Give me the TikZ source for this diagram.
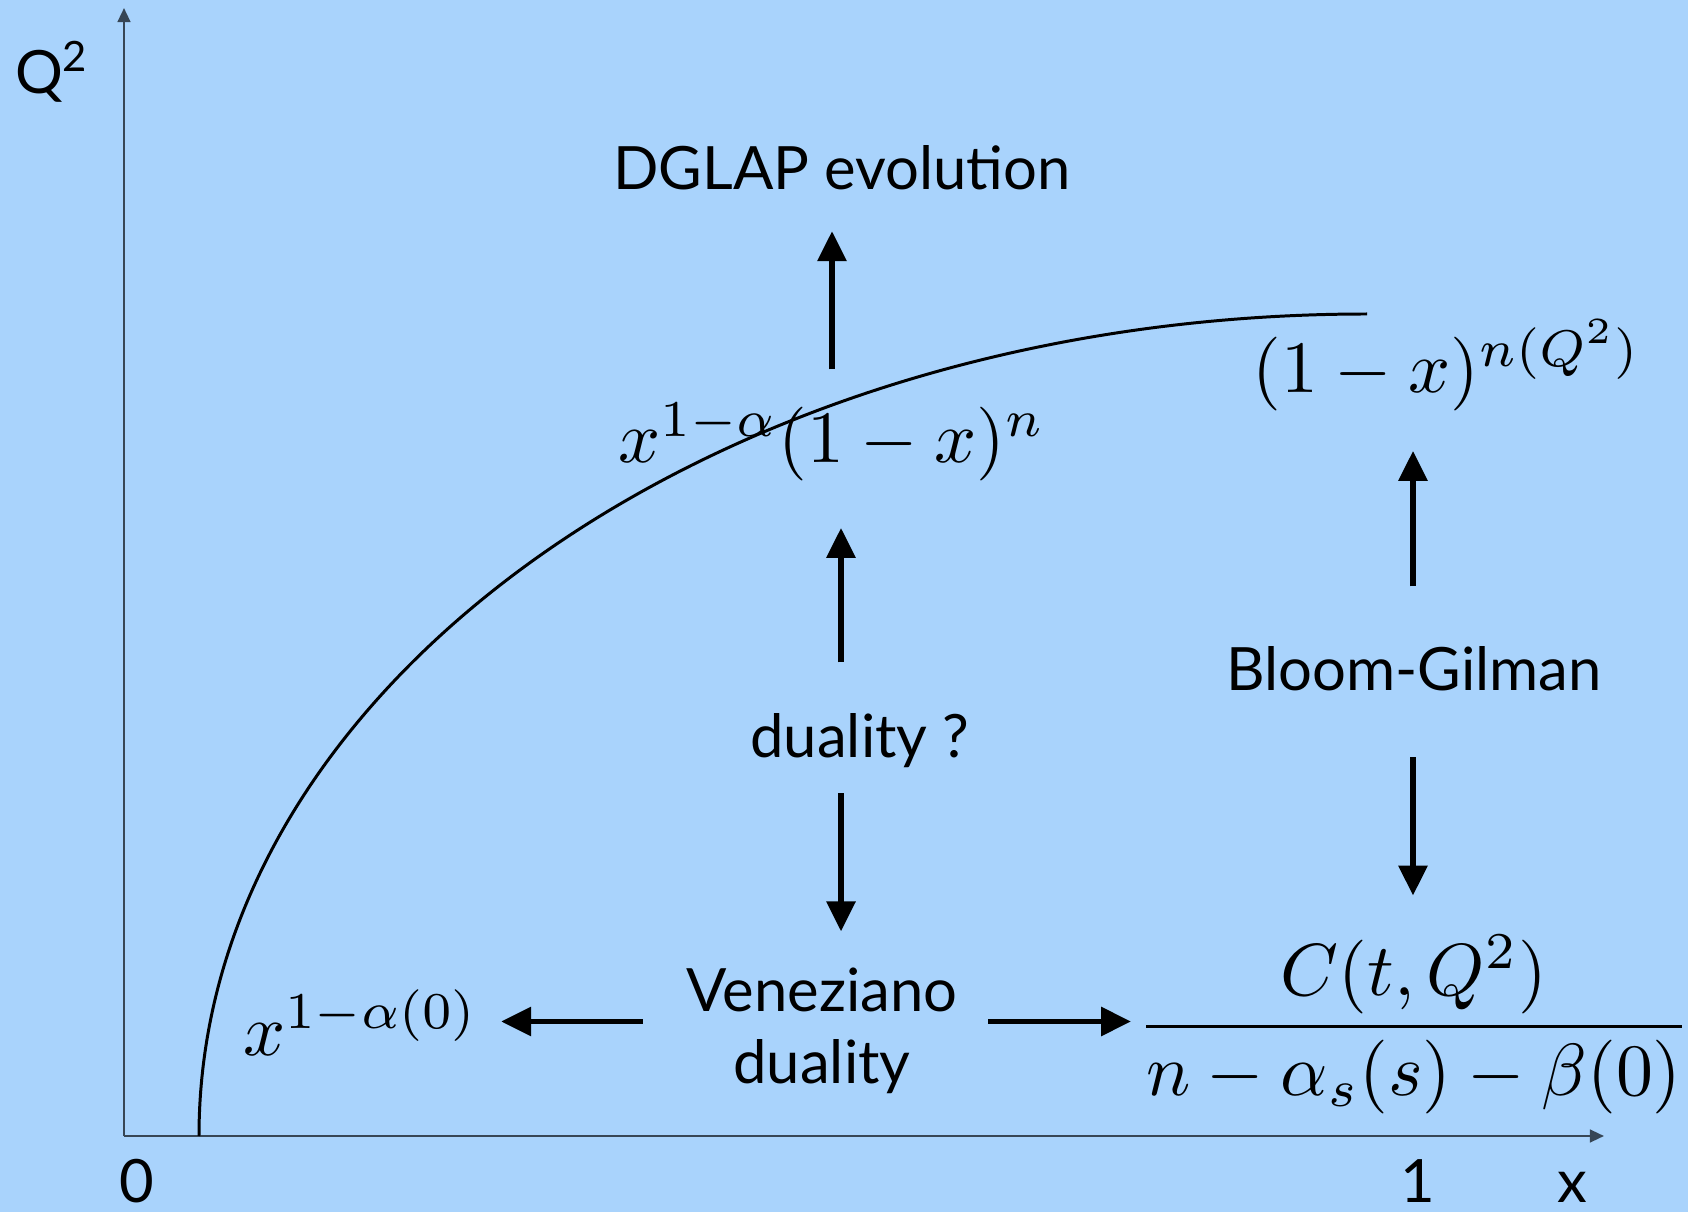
\documentclass[tikz,border=0pt]{standalone}
\usepackage[no-math]{fontspec}
\setmainfont{Lato}
\usepackage{tikz}
\usetikzlibrary{arrows.meta,positioning}
\definecolor{slideblue}{RGB}{169,211,252}
\definecolor{axisgray}{RGB}{55,70,85}

\begin{document}
\begin{tikzpicture}[
  txt/.style={font=\fontsize{17}{20.5}\selectfont, inner sep=0pt},
  mth/.style={scale=2.1, transform shape, inner sep=0pt},
  arr/.style={-{Triangle[length=8.5pt,width=8pt]}, line width=1.6pt},
  axis/.style={-{Triangle[length=4pt,width=3.6pt]}, line width=0.7pt, draw=axisgray},
]
\fill[slideblue] (-1.24,-0.76) rectangle (15.64,11.36);
\useasboundingbox (-1.24,-0.76) rectangle (15.64,11.36);

% axes
\coordinate (O) at (0,0);
\coordinate (ytop) at (0,11.28);
\coordinate (xend) at (14.80,0);
\draw[axis] (O) -- (ytop);
\draw[axis] (O) -- (xend);
\node[txt] (qlab) at (-0.72,10.64) {Q\textsuperscript{2}};
\node[txt, anchor=base] (zero) at (0.13,-0.67) {0};
\node[txt, anchor=base] (one) at (12.94,-0.67) {1};
\node[txt, anchor=base] (xlab) at (14.48,-0.67) {x};

% structure function curve
\draw[line width=0.85pt] (0.75,0) arc[start angle=180, end angle=90, x radius=11.68, y radius=8.22];

% labels
\node[txt, anchor=base] (dglap) at (7.18,9.46) {DGLAP evolution};
\node[mth, anchor=base] (mid) at (7.08,6.73) {$x^{1-\alpha}(1-x)^n$};
\node[txt, anchor=base] (duq) at (7.36,3.78) {duality ?};
\node[txt, align=center] (ven) at (6.98,1.05) {Veneziano\\duality};
\node[mth, anchor=base] (regge) at (2.37,0.81) {$x^{1-\alpha(0)}$};
\node[mth, anchor=base] (frac) at (12.90,0.91) {$\displaystyle\frac{C(t,Q^2)}{n-\alpha_s(s)-\beta(0)}$};
\node[mth, anchor=base] (large) at (13.23,7.43) {$(1-x)^{n(Q^2)}$};
\node[txt, anchor=base] (bg) at (12.90,4.45) {Bloom-Gilman};

% arrow columns
\coordinate (colA) at (7.08,0);
\coordinate (colB) at (7.17,0);
\coordinate (colC) at (12.89,0);
\coordinate (rowV) at (0,1.145);

\draw[arr, shorten <=0.32cm, shorten >=0.40cm] (mid.north -| colA) -- (dglap.south -| colA);
\draw[arr, shorten <=0.51cm, shorten >=0.45cm] (duq.north -| colB) -- (mid.south -| colB);
\draw[arr, shorten <=0.245cm, shorten >=0.36cm] (duq.south -| colB) -- (ven.north -| colB);
\draw[arr, shorten <=0.43cm, shorten >=0.21cm] (ven.west |- rowV) -- (regge.east |- rowV);
\draw[arr, shorten <=0.30cm, shorten >=0.05cm] (ven.east |- rowV) -- (frac.west |- rowV);
\draw[arr, shorten <=0.60cm, shorten >=0.38cm] (bg.north -| colC) -- (large.south -| colC);
\draw[arr, shorten <=0.65cm, shorten >=0.38cm] (bg.south -| colC) -- (frac.north -| colC);
\end{tikzpicture}
\end{document}
